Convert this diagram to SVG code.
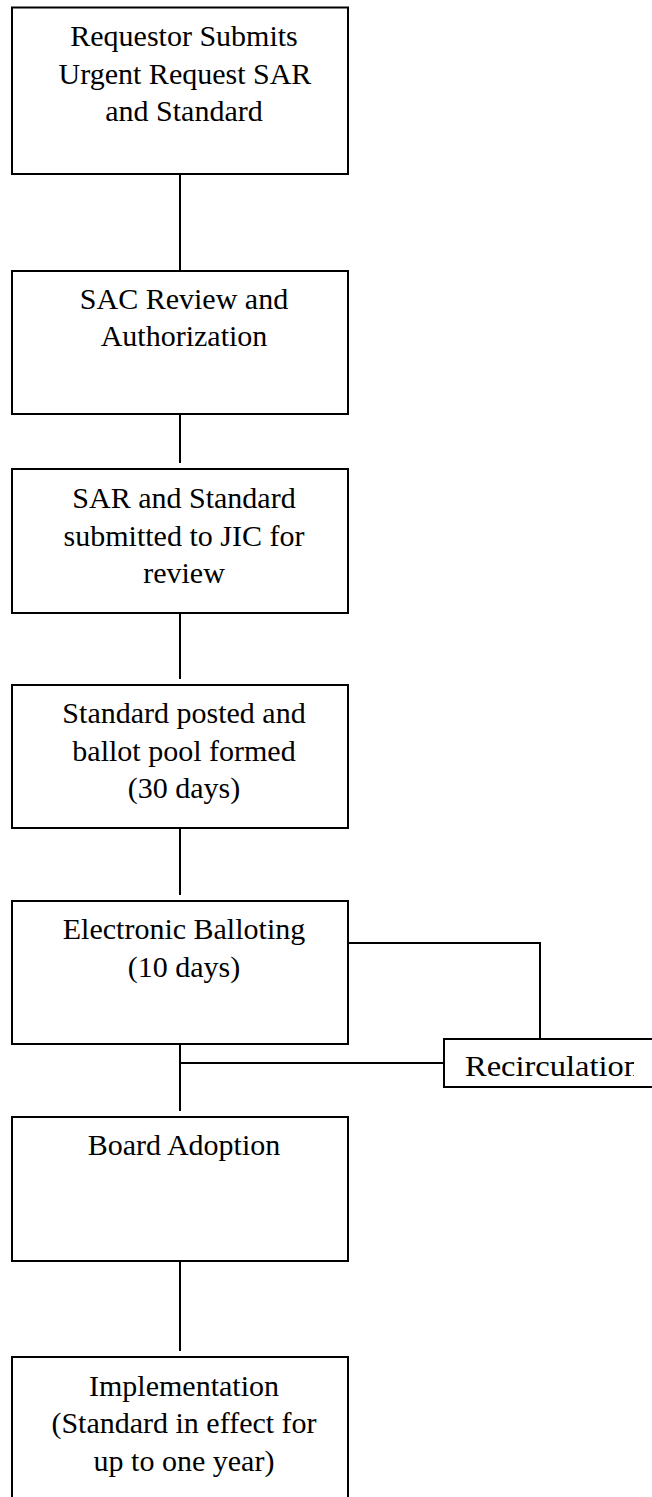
<svg xmlns="http://www.w3.org/2000/svg" width="652" height="1497" viewBox="0 0 652 1497">
<defs>
<style>
.box{fill:#fff;stroke:#000;stroke-width:2}
.ln{fill:none;stroke:#000;stroke-width:2}
.c{text-anchor:middle}
</style>
<clipPath id="rc"><rect x="444" y="1039" width="190" height="48"/></clipPath>
</defs>
<rect width="652" height="1497" fill="#fff"/>
<g id="connectors">
<line class="ln" x1="180" y1="174" x2="180" y2="271"/>
<line class="ln" x1="180" y1="414" x2="180" y2="463"/>
<line class="ln" x1="180" y1="606" x2="180" y2="679"/>
<line class="ln" x1="180" y1="822" x2="180" y2="895"/>
<polyline class="ln" points="348,943 540,943 540,1039"/>
<line class="ln" x1="180" y1="1063" x2="444" y2="1063"/>
<line class="ln" x1="180" y1="1038" x2="180" y2="1111"/>
<line class="ln" x1="180" y1="1261" x2="180" y2="1351"/>
</g>
<g font-family="'Liberation Serif', Tinos, 'DejaVu Serif', serif" font-size="30" fill="#000">
<g id="n1">
<rect class="box" x="12" y="7.5" width="336" height="166.5"/>
<text class="c" x="184" y="46">Requestor Submits</text>
<text class="c" x="185" y="83.5">Urgent Request SAR</text>
<text class="c" x="184" y="121">and Standard</text>
</g>
<g id="n2">
<rect class="box" x="12" y="271" width="336" height="143"/>
<text class="c" x="184" y="308.5">SAC Review and</text>
<text class="c" x="184" y="346">Authorization</text>
</g>
<g id="n3">
<rect class="box" x="12" y="469" width="336" height="144"/>
<text class="c" x="184" y="508">SAR and Standard</text>
<text class="c" x="184" y="545.5">submitted to JIC for</text>
<text class="c" x="184" y="583">review</text>
</g>
<g id="n4">
<rect class="box" x="12" y="685" width="336" height="143"/>
<text class="c" x="184" y="723">Standard posted and</text>
<text class="c" x="184" y="760.5">ballot pool formed</text>
<text class="c" x="184" y="798">(30 days)</text>
</g>
<g id="n5">
<rect class="box" x="12" y="901" width="336" height="143"/>
<text class="c" x="184" y="939">Electronic Balloting</text>
<text class="c" x="184" y="976.5">(10 days)</text>
</g>
<g id="n_recirc">
<rect class="box" x="444" y="1039" width="220" height="48"/>
<text x="465" y="1076" textLength="175" lengthAdjust="spacingAndGlyphs" clip-path="url(#rc)">Recirculation</text>
</g>
<g id="n6">
<rect class="box" x="12" y="1117" width="336" height="144"/>
<text class="c" x="184" y="1155">Board Adoption</text>
</g>
<g id="n7">
<rect class="box" x="12" y="1357" width="336" height="160"/>
<text class="c" x="184" y="1395.5">Implementation</text>
<text class="c" x="184" y="1433">(Standard in effect for</text>
<text class="c" x="184" y="1470.5">up to one year)</text>
</g>
</g>
</svg>
